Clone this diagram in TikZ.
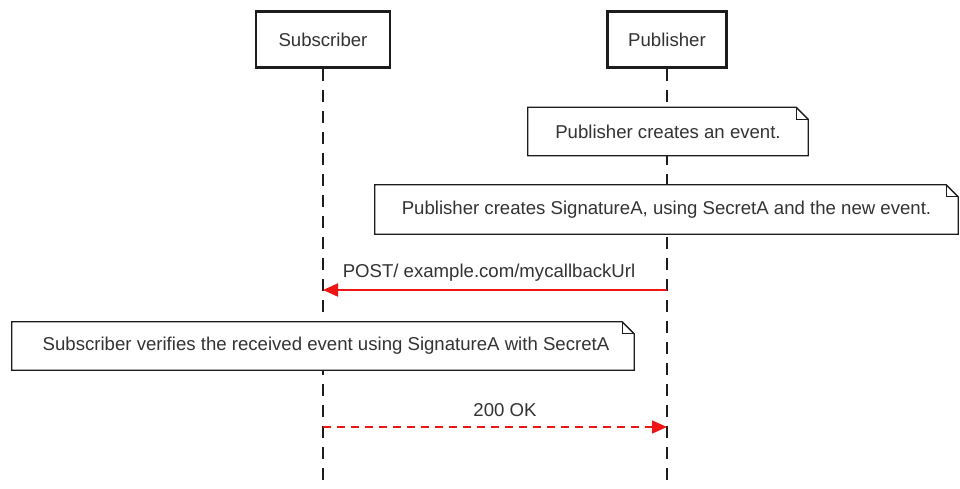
\documentclass[tikz,border=0pt]{standalone}
\usepackage{fontspec}
\setmainfont{Liberation Sans}
\usetikzlibrary{arrows.meta}

\definecolor{inkgray}{HTML}{333333}
\definecolor{edgeblack}{HTML}{1C1C1C}
\definecolor{msgred}{HTML}{EE1515}

\tikzset{
  lbl/.style={text=inkgray, font=\fontsize{18.6}{22}\selectfont, inner sep=0pt},
  actor/.style={lbl, draw=edgeblack, line width=2.8pt, fill=white, minimum height=56pt},
  notebox/.style={lbl, fill=white, minimum height=48pt},
  noteline/.style={draw=edgeblack, line width=1.3pt, line join=miter},
  lifeline/.style={draw=edgeblack, line width=2pt, dash pattern=on 12pt off 9pt},
  msg/.style={draw=msgred, line width=2pt, -{Triangle[length=15pt,width=13pt]}},
  reply/.style={draw=msgred, line width=1.5pt, dash pattern=on 8pt off 6pt, -{Triangle[length=15pt,width=13pt]}}
}

% outline of a note with a folded top-right corner
\newcommand{\notefold}[1]{%
  \draw[noteline] (#1.north west) -- ([xshift=-12pt]#1.north east)
    -- ([yshift=-12pt]#1.north east) -- (#1.south east) -- (#1.south west) -- cycle;
  \draw[noteline] ([xshift=-12pt]#1.north east) |- ([yshift=-12pt]#1.north east);
}

\begin{document}
\begin{tikzpicture}[x=1pt,y=-1pt]
  \path[use as bounding box, fill=white] (0,0) rectangle (960,488);

  % participants
  \node[actor, minimum width=134pt] (sub) at (323,39.5) {Subscriber};
  \node[actor, minimum width=119pt] (pub) at (667,39.5) {Publisher};

  % lifeline ends
  \coordinate (subEnd) at (323,488);
  \coordinate (pubEnd) at (667,488);
  \draw[lifeline] (sub.south) -- (subEnd);
  \draw[lifeline] (pub.south) -- (pubEnd);

  % notes
  \node[notebox, minimum width=280pt] (n1) at (668,131.5) {Publisher creates an event.};
  \notefold{n1}
  \node[notebox, minimum width=583pt, minimum height=49pt] (n2) at (666.5,209.5)
    {Publisher creates SignatureA, using SecretA and the new event.};
  \notefold{n2}

  % request
  \coordinate (postFrom) at (667,290);
  \coordinate (postTo) at (323,290);
  \draw[msg] (postFrom) -- (postTo);
  \node[lbl] (postLbl) at (489,273) {POST/ example.com/mycallbackUrl};

  \node[notebox, minimum width=622pt] (n3) at (323,346)
    {\hspace{6pt}Subscriber verifies the received event using SignatureA with SecretA};
  \notefold{n3}

  % response
  \coordinate (okFrom) at (323,427);
  \coordinate (okTo) at (667,427);
  \draw[reply] (okFrom) -- (okTo);
  \node[lbl] (okLbl) at (505,410) {200 OK};
\end{tikzpicture}
\end{document}
